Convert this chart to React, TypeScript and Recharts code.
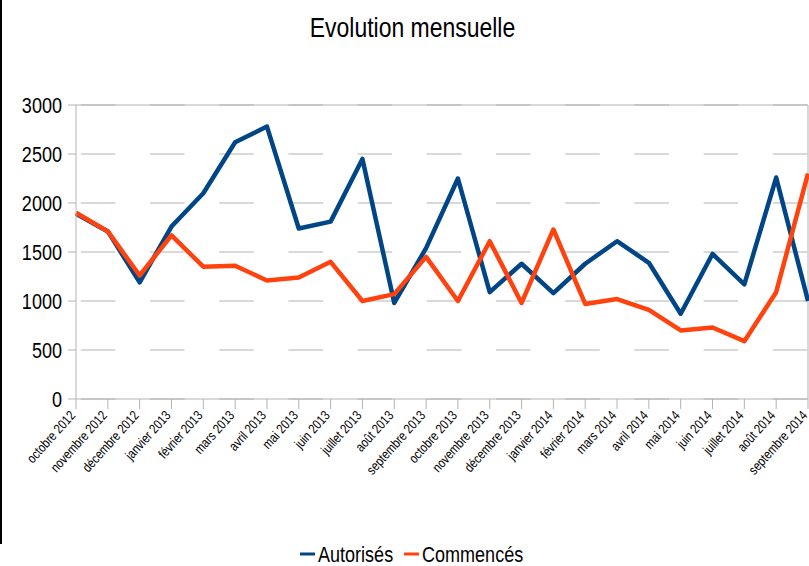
import { LineChart, Line, XAxis, YAxis, CartesianGrid, Legend, ReferenceLine } from "recharts";

// mois (oct. 2012 -> sept. 2014)
const months = [
  "octobre 2012", "novembre 2012", "décembre 2012", "janvier 2013", "février 2013", "mars 2013",
  "avril 2013", "mai 2013", "juin 2013", "juillet 2013", "août 2013", "septembre 2013",
  "octobre 2013", "novembre 2013", "décembre 2013", "janvier 2014", "février 2014", "mars 2014",
  "avril 2014", "mai 2014", "juin 2014", "juillet 2014", "août 2014", "septembre 2014",
];

const autorises = [
  1890, 1710, 1190, 1760, 2100, 2620, 2780, 1740, 1810, 2450, 980, 1540,
  2250, 1090, 1380, 1080, 1380, 1610, 1390, 870, 1480, 1170, 2260, 1000,
];

const commences = [
  1900, 1710, 1260, 1670, 1350, 1360, 1210, 1240, 1400, 1000, 1070, 1450,
  1000, 1610, 980, 1730, 970, 1020, 910, 700, 730, 590, 1090, 2300,
];

const yTicks = [0, 500, 1000, 1500, 2000, 2500, 3000];

const series = [
  { key: "autorises", name: "Autorisés", color: "#004586" },
  { key: "commences", name: "Commencés", color: "#ff420e" },
];

const data = months.map((m, i) => ({ month: m, autorises: autorises[i], commences: commences[i] }));

const FONT = "'Liberation Sans', Arial, sans-serif";
const SQUEEZE = 0.82; // le texte de l'original est étroit
const GRID = "#b3b3b3";

const XTick = ({ x, y, payload }: any) => (
  <g transform={`translate(${x},${y + 7})`}>
    <text transform={`rotate(-48) scale(${SQUEEZE},1)`} textAnchor="end" fontSize={13.5} fontFamily={FONT} fill="#000">
      {payload.value}
    </text>
  </g>
);

const YTick = ({ x, y, payload }: any) => (
  <text transform={`translate(${x},${y}) scale(${SQUEEZE},1)`} textAnchor="end" dy="0.355em" fontSize={22} fontFamily={FONT} fill="#000">
    {payload.value}
  </text>
);

const LegendContent = () => {
  const starts = [300, 404];
  return (
    <svg width={809} height={36}>
      {series.map((s, i) => (
        <g key={s.key}>
          <line x1={starts[i]} x2={starts[i] + 15} y1={24} y2={24} stroke={s.color} strokeWidth={3} />
          <text transform={`translate(${starts[i] + 18},32) scale(${SQUEEZE},1)`} fontSize={22} fontFamily={FONT} fill="#000">
            {s.name}
          </text>
        </g>
      ))}
    </svg>
  );
};

export default function App() {
  return (
    <div style={{ position: "absolute", left: 0, top: 0, width: 809, height: 566, background: "#fff" }}>
      <div style={{ position: "absolute", left: 0, top: 0, width: 2, height: 544, background: "#000" }} />
      <div
        style={{
          position: "absolute", left: 8, top: 12, width: 809, textAlign: "center",
          fontFamily: FONT, fontSize: 28, lineHeight: "32px", transform: `scaleX(${SQUEEZE})`, color: "#000",
        }}
      >
        Evolution mensuelle
      </div>
      <LineChart width={809} height={566} data={data} margin={{ top: 105, right: 1, left: 0, bottom: 0 }}>
        <CartesianGrid vertical={false} stroke={GRID} strokeDasharray="34.6 34.6" strokeDashoffset={64.4} />
        <XAxis
          dataKey="month"
          interval={0}
          height={167}
          tickSize={10}
          tickMargin={0}
          stroke={GRID}
          tick={<XTick />}
        />
        <YAxis
          domain={[0, 3000]}
          ticks={yTicks}
          width={76}
          tickSize={8}
          tickMargin={6}
          stroke={GRID}
          tick={<YTick />}
        />
        <ReferenceLine y={3000} stroke={GRID} />
        <ReferenceLine x={months[months.length - 1]} stroke={GRID} />
        {series.map((s) => (
          <Line
            key={s.key}
            type="linear"
            dataKey={s.key}
            name={s.name}
            stroke={s.color}
            strokeWidth={4.5}
            strokeLinejoin="round"
            dot={false}
            isAnimationActive={false}
          />
        ))}
        <Legend
          layout="horizontal"
          verticalAlign="middle"
          align="center"
          content={<LegendContent />}
          wrapperStyle={{ top: 530, left: 0, width: 809, height: 36 }}
        />
      </LineChart>
    </div>
  );
}
